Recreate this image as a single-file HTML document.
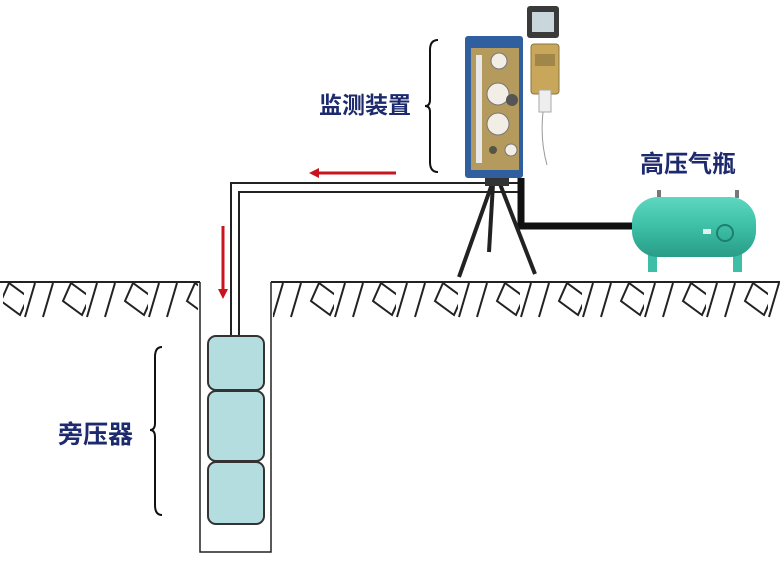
<!DOCTYPE html>
<html><head><meta charset="utf-8"><style>
html,body{margin:0;padding:0;background:#fff;}
svg{display:block;}
text{font-family:"Liberation Sans","Noto Sans CJK SC",sans-serif;font-weight:bold;fill:#1d2b6e;}
</style></head><body>
<svg width="780" height="585" viewBox="0 0 780 585" xmlns="http://www.w3.org/2000/svg">
<defs>
<pattern id="h" x="272" y="283" width="62" height="36" patternUnits="userSpaceOnUse">
<g stroke="#222" stroke-width="2" fill="none">
<line x1="11" y1="0" x2="1" y2="34"/>
<line x1="29" y1="0" x2="19" y2="34"/>
<polyline points="47,0 39,18 58,32 66,14 47,0"/>
</g>
</pattern>
<linearGradient id="tk" x1="0" y1="0" x2="0" y2="1">
<stop offset="0" stop-color="#5fd6c0"/><stop offset="0.5" stop-color="#3cbfa6"/><stop offset="1" stop-color="#2a9c86"/>
</linearGradient>
</defs>
<rect x="0" y="283" width="198" height="36" fill="url(#h)"/>
<rect x="273" y="283" width="507" height="36" fill="url(#h)"/>
<rect x="0" y="283" width="3" height="36" fill="#fff"/>
<g stroke="#222" stroke-width="2" fill="none">
<line x1="0" y1="282" x2="200" y2="282"/>
<line x1="271" y1="282" x2="780" y2="282"/>
<polyline points="200,282 200,552 271,552 271,282" stroke-width="1.5"/>
<polyline points="231,336 231,183 520,183" stroke-width="2"/>
<polyline points="239,336 239,192 520,192" stroke-width="2"/>
</g>
<g fill="#b4dde0" stroke="#333" stroke-width="2">
<rect x="208" y="336" width="56" height="54" rx="8"/>
<rect x="208" y="391" width="56" height="70" rx="8"/>
<rect x="208" y="462" width="56" height="62" rx="8"/>
</g>
<g stroke="#c8141c" stroke-width="3" fill="#c8141c">
<line x1="396" y1="173" x2="318" y2="173"/>
<polygon points="309,173 319,168 319,178" stroke="none"/>
<line x1="223" y1="226" x2="223" y2="290"/>
<polygon points="223,299 218,289 228,289" stroke="none"/>
</g>
<g stroke="#111" stroke-width="2" fill="none">
<path d="M438,40 Q430,40 430,50 L430,100 Q430,106 425,106 Q430,106 430,112 L430,162 Q430,172 438,172"/>
<path d="M162,347 Q155,347 155,357 L155,423 Q155,430 150,430 Q155,430 155,437 L155,505 Q155,515 162,515"/>
</g>
<text x="319" y="113" font-size="23">监测装置</text>
<text x="640" y="172" font-size="24">高压气瓶</text>
<text x="58" y="443" font-size="25">旁压器</text>
<polyline points="521,178 521,226 634,226" stroke="#111" stroke-width="7" fill="none"/>
<g stroke="#222" stroke-width="4" fill="none">
<line x1="492" y1="184" x2="459" y2="277"/>
<line x1="493" y1="184" x2="489" y2="252"/>
<line x1="500" y1="184" x2="535" y2="274"/>
</g>
<rect x="485" y="176" width="24" height="10" fill="#333"/>
<rect x="465" y="36" width="58" height="142" rx="3" fill="#2f5f9e"/>
<rect x="471" y="48" width="48" height="122" fill="#b59a5e"/>
<rect x="476" y="55" width="6" height="108" fill="#e8e8e8"/>
<circle cx="499" cy="61" r="8" fill="#f2eee6" stroke="#777"/>
<circle cx="498" cy="94" r="11" fill="#f2eee6" stroke="#777"/>
<circle cx="512" cy="100" r="6" fill="#555"/>
<circle cx="498" cy="124" r="11" fill="#f2eee6" stroke="#777"/>
<circle cx="511" cy="150" r="6" fill="#f2eee6" stroke="#777"/>
<circle cx="493" cy="150" r="4" fill="#554"/>
<rect x="527" y="6" width="32" height="32" rx="3" fill="#3a3a3a"/>
<rect x="532" y="12" width="22" height="20" fill="#c9d6dc"/>
<rect x="531" y="44" width="28" height="50" rx="3" fill="#c9a75a" stroke="#8a7440"/>
<rect x="535" y="54" width="20" height="12" fill="#a08648"/>
<rect x="539" y="90" width="12" height="22" fill="#eee" stroke="#aaa"/>
<path d="M543,112 Q540,140 547,165" stroke="#999" fill="none"/>
<rect x="648" y="250" width="9" height="22" fill="#3cbfa6"/>
<rect x="733" y="250" width="9" height="22" fill="#3cbfa6"/>
<rect x="657" y="190" width="4" height="8" fill="#777"/>
<rect x="735" y="190" width="4" height="8" fill="#777"/>
<rect x="632" y="197" width="124" height="60" rx="26" fill="url(#tk)"/>
<circle cx="725" cy="233" r="8" fill="none" stroke="#1e7f6e" stroke-width="2"/>
<rect x="703" y="229" width="8" height="5" fill="#e0f0ec"/>
</svg>
</body></html>
